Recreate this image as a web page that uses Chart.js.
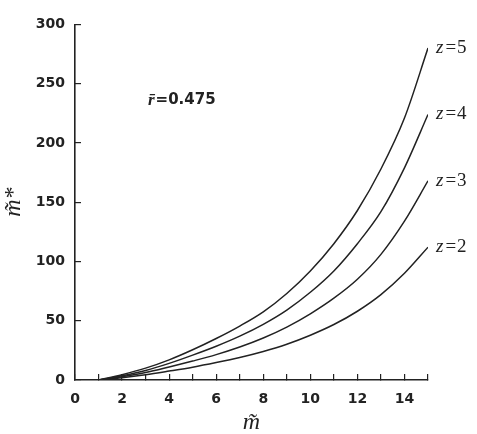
<!DOCTYPE html>
<html>
<head>
<meta charset="utf-8">
<script src="https://cdn.jsdelivr.net/npm/chart.js@4/dist/chart.umd.min.js"></script>
<style>
  html, body { margin: 0; padding: 0; background: #fff; }
  #wrap { width: 477px; height: 434px; position: relative; }
</style>
</head>
<body>
<div id="wrap"><canvas id="c" width="477" height="434"></canvas></div>
<script>
// ---- data ----
const mValues = [1, 2, 3, 4, 5, 6, 7, 8, 9, 10, 11, 12, 13, 14, 15];
const z5 = [0, 4.5, 10, 17, 25.5, 35, 45.5, 57.5, 73, 92, 115, 143, 178, 221, 280];
const z4 = [0, 3.5, 8, 14, 21, 28.5, 37, 47, 59, 74, 92, 115, 142, 179, 224];
const z3 = [0, 2.8, 6.3, 11, 16, 21.4, 27.8, 35.4, 44.6, 55.8, 69, 85, 106, 134, 168];
const z2 = [0, 1.9, 4.4, 7.5, 10.8, 14.7, 19, 24.1, 30.2, 37.8, 46.8, 58, 72, 90, 112];
const seriesLabels = ['z=5', 'z=4', 'z=3', 'z=2'];
const xTickLabels = [0, 2, 4, 6, 8, 10, 12, 14];
const yTickLabels = [0, 50, 100, 150, 200, 250, 300];
const annotationVar = 'r\u0304';
const annotationValue = '=0.475';
const xTitle = 'm\u0303';
const yTitle = 'm\u0303*';

const INK = '#222';
const seriesData = [z5, z4, z3, z2];

function pts(arr) { return mValues.map((m, i) => ({ x: m, y: arr[i] })); }

const textPlugin = {
  id: 'texts',
  afterDraw(chart) {
    const ctx = chart.ctx;
    const xs = chart.scales.x, ys = chart.scales.y;
    ctx.save();
    ctx.fillStyle = INK;
    // curve end labels
    seriesLabels.forEach((lab, i) => {
      const arr = seriesData[i];
      let px = xs.getPixelForValue(mValues[mValues.length - 1]) + 8;
      const py = ys.getPixelForValue(arr[arr.length - 1]);
      ctx.textBaseline = 'middle';
      ctx.textAlign = 'left';
      ctx.font = 'italic 19px "Liberation Serif"';
      ctx.fillText(lab[0], px, py);
      px += ctx.measureText(lab[0]).width + 2;
      ctx.font = '19px "Liberation Serif"';
      ctx.fillText(lab[1], px, py);
      px += ctx.measureText(lab[1]).width + 1;
      ctx.fillText(lab.slice(2), px, py);
    });
    // r annotation
    {
      let px = xs.getPixelForValue(3.1);
      const py = ys.getPixelForValue(236);
      ctx.textBaseline = 'middle';
      ctx.textAlign = 'left';
      ctx.font = 'italic bold 17px "Liberation Serif"';
      ctx.fillText(annotationVar, px, py);
      px += ctx.measureText(annotationVar).width + 1;
      ctx.font = 'bold 15px "DejaVu Sans"';
      ctx.fillText(annotationValue, px, py);
    }
    // x title
    {
      const cx = (chart.chartArea.left + chart.chartArea.right) / 2;
      ctx.textAlign = 'center';
      ctx.textBaseline = 'alphabetic';
      ctx.font = 'italic 24px "Liberation Serif"';
      ctx.fillText(xTitle, cx, 429);
    }
    // y title
    {
      const cy = (chart.chartArea.top + chart.chartArea.bottom) / 2;
      ctx.translate(20, cy);
      ctx.rotate(-Math.PI / 2);
      ctx.textAlign = 'center';
      ctx.textBaseline = 'alphabetic';
      ctx.font = 'italic 24px "Liberation Serif"';
      ctx.fillText(yTitle, 0, 0);
    }
    ctx.restore();
  }
};

new Chart(document.getElementById('c'), {
  type: 'line',
  data: {
    datasets: seriesData.map((arr, i) => ({
      label: seriesLabels[i],
      data: pts(arr),
      borderColor: INK,
      borderWidth: 1.5,
      pointRadius: 0,
      fill: false,
      cubicInterpolationMode: 'monotone'
    }))
  },
  options: {
    responsive: false,
    animation: false,
    layout: { padding: { left: 0, right: 49, top: 21, bottom: 0 } },
    plugins: { legend: { display: false }, tooltip: { enabled: false } },
    scales: {
      x: {
        type: 'linear',
        min: 0, max: 15,
        border: { display: true, color: INK, width: 1.6 },
        grid: { drawOnChartArea: false, drawTicks: true, tickLength: -6, color: INK, lineWidth: 1.2 },
        ticks: {
          stepSize: 1,
          padding: 17,
          color: INK,
          font: { family: '"DejaVu Sans"', size: 14, weight: 'bold' },
          maxRotation: 0,
          autoSkip: false,
          callback: (v) => xTickLabels.includes(v) ? String(v) : ''
        },
        afterFit: (s) => { s.height = 54; }
      },
      y: {
        type: 'linear',
        min: 0, max: 300,
        border: { display: true, color: INK, width: 1.6 },
        grid: { drawOnChartArea: false, drawTicks: true, tickLength: -6, color: INK, lineWidth: 1.2 },
        ticks: {
          stepSize: 50,
          padding: 16,
          color: INK,
          font: { family: '"DejaVu Sans"', size: 14, weight: 'bold' },
          callback: (v) => yTickLabels.includes(v) ? String(v) : ''
        },
        afterFit: (s) => { s.width = 75; }
      }
    }
  },
  plugins: [textPlugin]
});
</script>
</body>
</html>
